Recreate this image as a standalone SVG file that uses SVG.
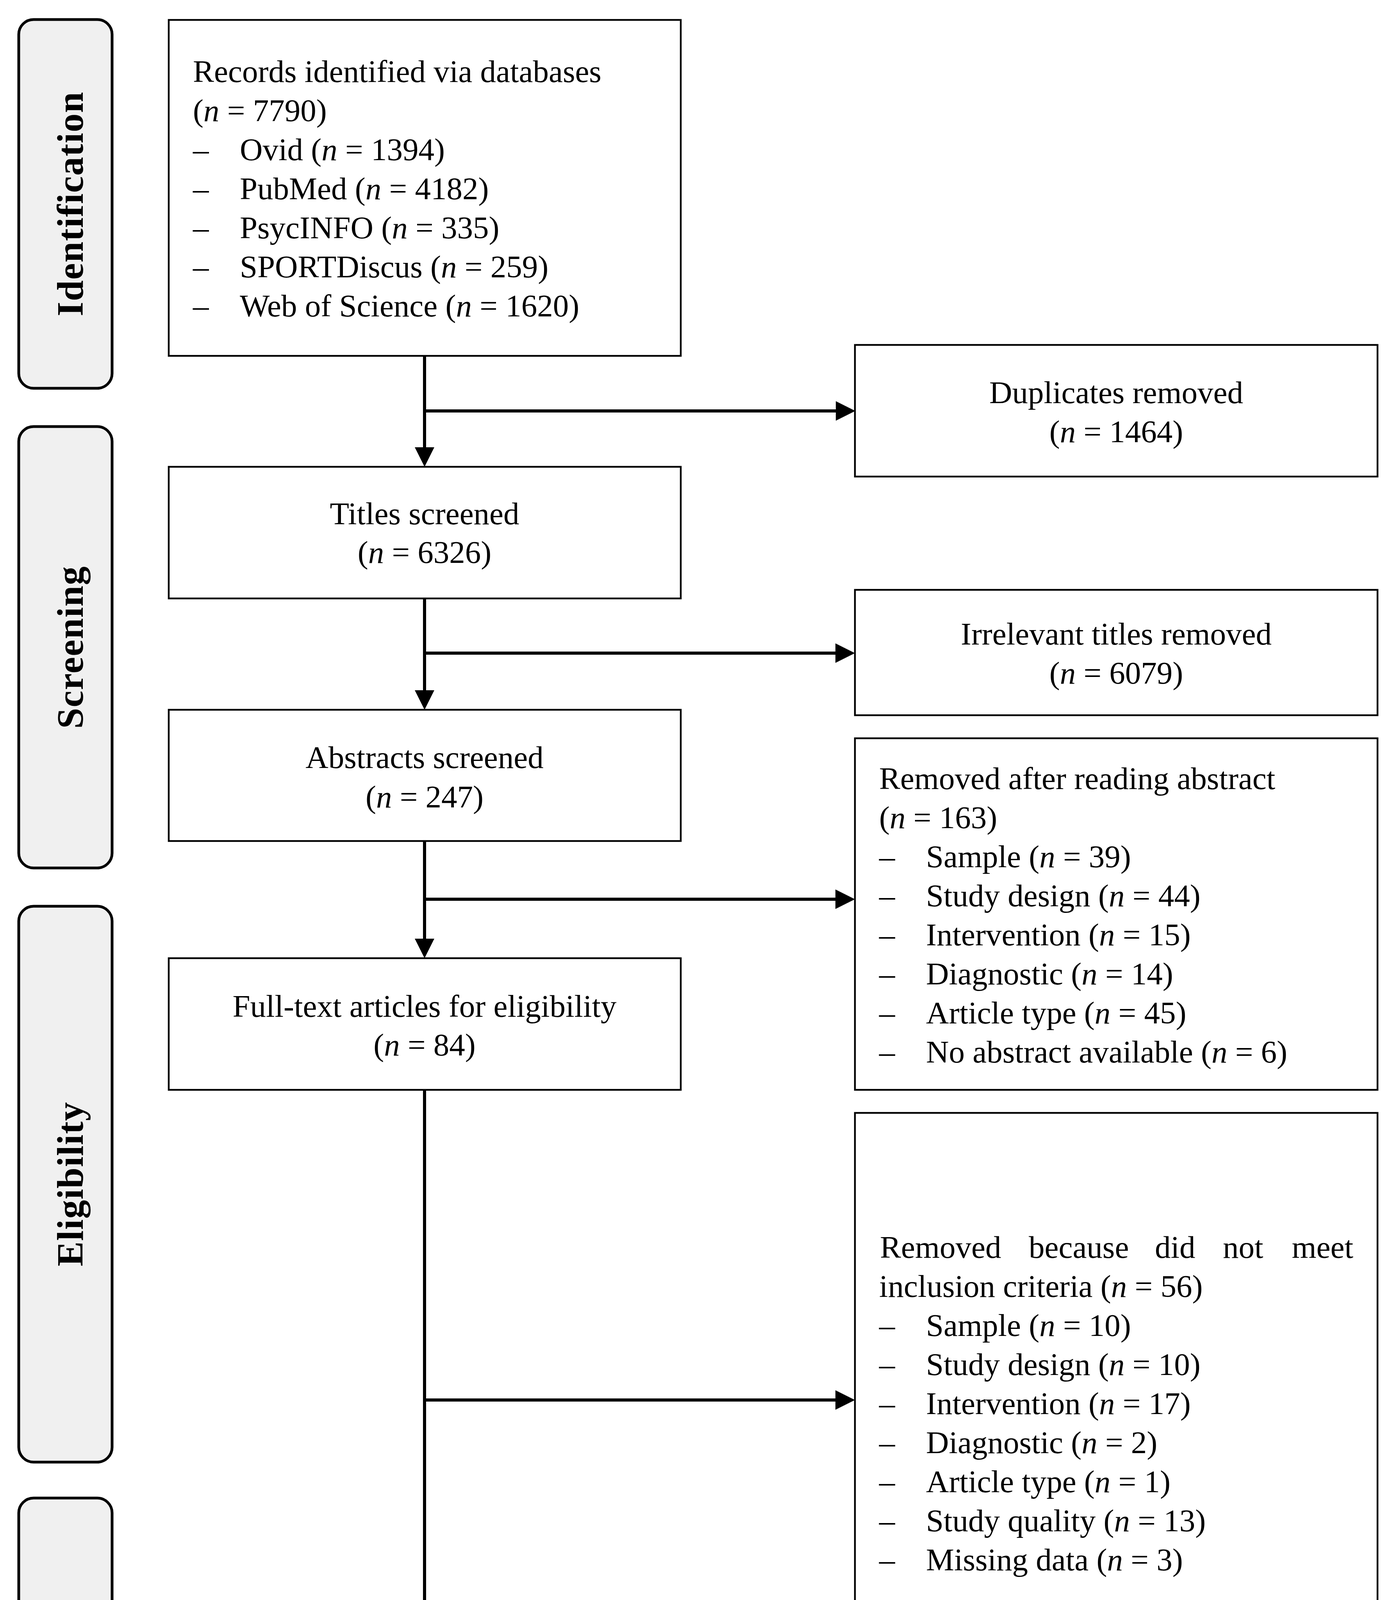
<svg xmlns="http://www.w3.org/2000/svg" width="3582" height="5267" viewBox="0 0 3582 5267">
<style>
text{font-family:"Liberation Serif","Times New Roman",serif;font-size:81px;fill:#000}
.c{text-anchor:middle}
.ph{font-weight:bold;font-size:96px;letter-spacing:1.5px;text-anchor:middle}
.box{fill:#fff;stroke:#000;stroke-width:4.5}
.phase{fill:#f0f0f0;stroke:#000;stroke-width:7}
.con{fill:none;stroke:#000;stroke-width:8;marker-end:url(#ah)}
.i{font-style:italic}
</style>
<defs>
<marker id="ah" markerUnits="userSpaceOnUse" markerWidth="50" markerHeight="50" viewBox="0 0 50 50" refX="10" refY="25" orient="auto"><path d="M0,0 L50,25 L0,50 z" fill="#000"/></marker>
</defs>
<rect width="3582" height="5267" fill="#fff"/>

<g id="phase-identification">
<rect class="phase" x="48" y="50" width="239" height="944" rx="38"/>
<text class="ph" transform="translate(212,522) rotate(-90)">Identification</text>
</g>
<g id="phase-screening">
<rect class="phase" x="48" y="1092" width="239" height="1130" rx="38"/>
<text class="ph" transform="translate(212,1657) rotate(-90)">Screening</text>
</g>
<g id="phase-eligibility">
<rect class="phase" x="48" y="2320" width="239" height="1423" rx="38"/>
<text class="ph" transform="translate(212,3031) rotate(-90)">Eligibility</text>
</g>
<g id="phase-inclusion">
<rect class="phase" x="48" y="3835" width="239" height="1397" rx="38"/>
<text class="ph" transform="translate(212,4533) rotate(-90)">Inclusion</text>
</g>

<g id="connectors">
<path class="con" d="M1087,911 V1155"/>
<path class="con" d="M1087,1052 H2150"/>
<path class="con" d="M1087,1532 V1777"/>
<path class="con" d="M1087,1672 H2149"/>
<path class="con" d="M1087,2153 V2413"/>
<path class="con" d="M1087,2302 H2149"/>
<path class="con" d="M1087,2790 V4782"/>
<path class="con" d="M1087,3584 H2149"/>
<path class="con" d="M2189,4596 H1127"/>
</g>

<g id="records">
<rect class="box" x="432" y="51" width="1311" height="860"/>
<text x="494" y="210">Records identified via databases</text>
<text x="494" y="310">(<tspan class="i">n</tspan> = 7790)</text>
<text x="494" y="410">–</text><text x="614" y="410">Ovid (<tspan class="i">n</tspan> = 1394)</text>
<text x="494" y="510">–</text><text x="614" y="510">PubMed (<tspan class="i">n</tspan> = 4182)</text>
<text x="494" y="610">–</text><text x="614" y="610">PsycINFO (<tspan class="i">n</tspan> = 335)</text>
<text x="494" y="710">–</text><text x="614" y="710">SPORTDiscus (<tspan class="i">n</tspan> = 259)</text>
<text x="494" y="810">–</text><text x="614" y="810">Web of Science (<tspan class="i">n</tspan> = 1620)</text>
</g>

<g id="duplicates">
<rect class="box" x="2189" y="883" width="1338" height="337"/>
<text class="c" x="2858" y="1032">Duplicates removed</text>
<text class="c" x="2858" y="1132">(<tspan class="i">n</tspan> = 1464)</text>
</g>

<g id="titles">
<rect class="box" x="432" y="1195" width="1311" height="337"/>
<text class="c" x="1087" y="1342">Titles screened</text>
<text class="c" x="1087" y="1441">(<tspan class="i">n</tspan> = 6326)</text>
</g>

<g id="irrelevant">
<rect class="box" x="2189" y="1510" width="1338" height="321"/>
<text class="c" x="2858" y="1650">Irrelevant titles removed</text>
<text class="c" x="2858" y="1750">(<tspan class="i">n</tspan> = 6079)</text>
</g>

<g id="abstracts">
<rect class="box" x="432" y="1817" width="1311" height="336"/>
<text class="c" x="1087" y="1966">Abstracts screened</text>
<text class="c" x="1087" y="2067">(<tspan class="i">n</tspan> = 247)</text>
</g>

<g id="removed-abstract">
<rect class="box" x="2189" y="1890" width="1338" height="900"/>
<text x="2251" y="2020">Removed after reading abstract</text>
<text x="2251" y="2120">(<tspan class="i">n</tspan> = 163)</text>
<text x="2251" y="2220">–</text><text x="2371" y="2220">Sample (<tspan class="i">n</tspan> = 39)</text>
<text x="2251" y="2320">–</text><text x="2371" y="2320">Study design (<tspan class="i">n</tspan> = 44)</text>
<text x="2251" y="2420">–</text><text x="2371" y="2420">Intervention (<tspan class="i">n</tspan> = 15)</text>
<text x="2251" y="2520">–</text><text x="2371" y="2520">Diagnostic (<tspan class="i">n</tspan> = 14)</text>
<text x="2251" y="2620">–</text><text x="2371" y="2620">Article type (<tspan class="i">n</tspan> = 45)</text>
<text x="2251" y="2720">–</text><text x="2371" y="2720">No abstract available (<tspan class="i">n</tspan> = 6)</text>
</g>

<g id="fulltext">
<rect class="box" x="432" y="2453" width="1311" height="337"/>
<text class="c" x="1087" y="2603">Full-text articles for eligibility</text>
<text class="c" x="1087" y="2702">(<tspan class="i">n</tspan> = 84)</text>
</g>

<g id="removed-criteria">
<rect class="box" x="2189" y="2849" width="1338" height="1483"/>
<text x="2253" y="3220">Removed</text>
<text x="2634" y="3220">because</text>
<text x="2957" y="3220">did</text>
<text x="3131" y="3220">not</text>
<text x="3465" y="3220" text-anchor="end">meet</text>
<text x="2251" y="3320">inclusion criteria (<tspan class="i">n</tspan> = 56)</text>
<text x="2251" y="3420">–</text><text x="2371" y="3420">Sample (<tspan class="i">n</tspan> = 10)</text>
<text x="2251" y="3520">–</text><text x="2371" y="3520">Study design (<tspan class="i">n</tspan> = 10)</text>
<text x="2251" y="3620">–</text><text x="2371" y="3620">Intervention (<tspan class="i">n</tspan> = 17)</text>
<text x="2251" y="3720">–</text><text x="2371" y="3720">Diagnostic (<tspan class="i">n</tspan> = 2)</text>
<text x="2251" y="3820">–</text><text x="2371" y="3820">Article type (<tspan class="i">n</tspan> = 1)</text>
<text x="2251" y="3920">–</text><text x="2371" y="3920">Study quality (<tspan class="i">n</tspan> = 13)</text>
<text x="2251" y="4020">–</text><text x="2371" y="4020">Missing data (<tspan class="i">n</tspan> = 3)</text>
</g>

<g id="additional">
<rect class="box" x="2189" y="4388" width="1338" height="396"/>
<text class="c" x="2858" y="4515">Additional records identified</text>
<text class="c" x="2858" y="4614">through other sources</text>
<text class="c" x="2858" y="4713">(<tspan class="i">n</tspan> = 9)</text>
</g>

<g id="included">
<rect class="box" x="432" y="4822" width="1311" height="410"/>
<text class="c" x="1087" y="4957">Articles included in the</text>
<text class="c" x="1087" y="5060">quantitative meta-analysis</text>
<text class="c" x="1087" y="5162">(<tspan class="i">n</tspan> = 37)</text>
</g>
</svg>
